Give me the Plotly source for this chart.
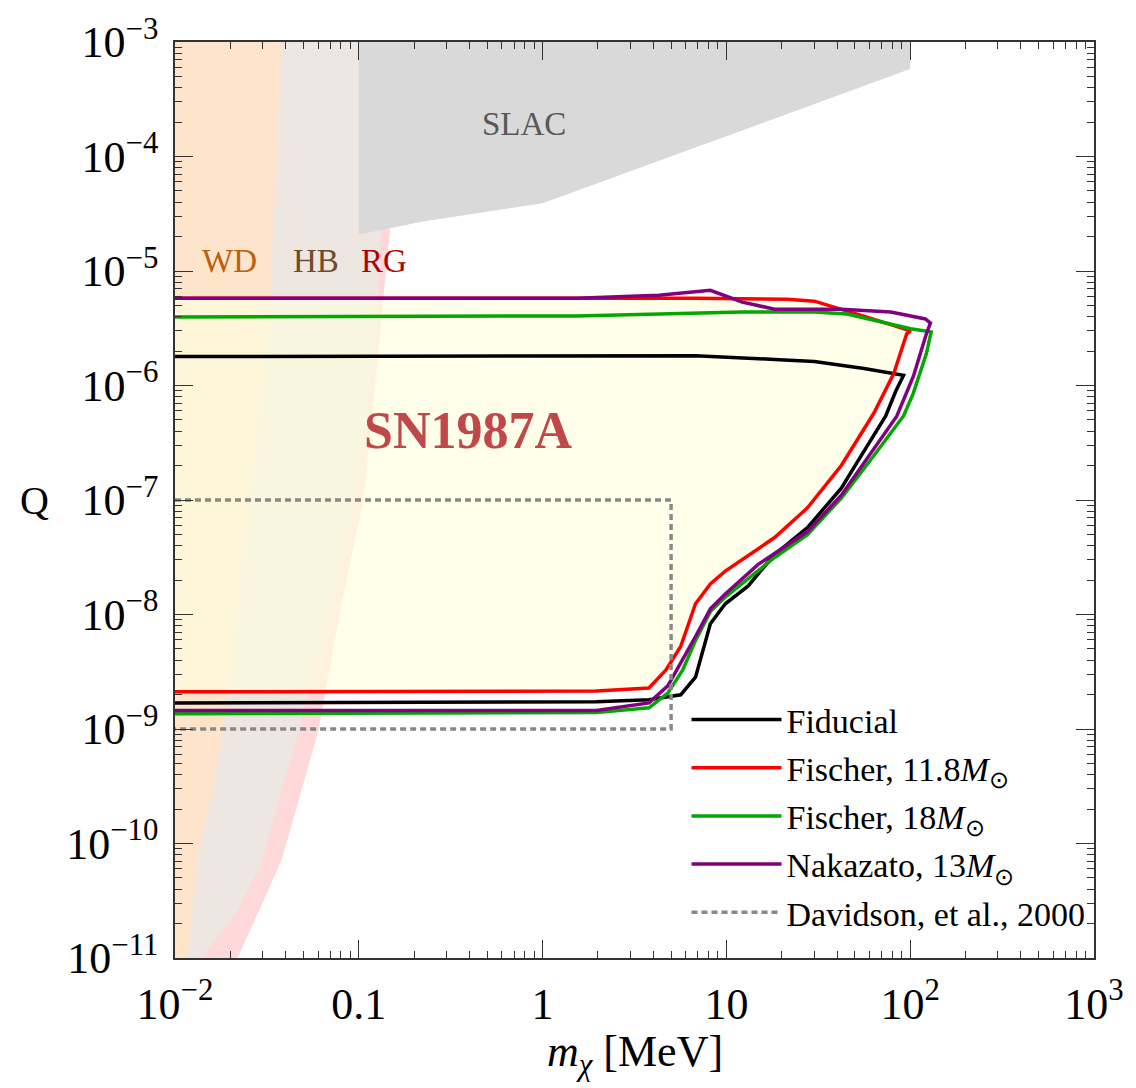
import numpy as np
import plotly.graph_objects as go

# ---- SN1987A cooling bounds on millicharged particles: (m_chi [MeV], Q) contours ----
fid_m = [0.01, 6.8, 18.3, 30.1, 56.1, 92, 83.4, 73.6, 51.4, 42.2, 27.6, 18.3, 13.1, 9.86, 8.18, 6.79, 5.64, 3.79, 1.96, 0.01]
fid_q = [1.79e-6, 1.82e-6, 1.69e-6, 1.62e-6, 1.41e-6, 1.23e-6, 8.9e-7, 5.42e-7, 2.13e-7, 1.27e-7, 5.73e-8, 3.35e-8, 1.77e-8, 1.24e-8, 8.3e-9, 2.84e-9, 1.99e-9, 1.80e-9, 1.73e-9, 1.69e-9]

f118_m = [0.01, 6.8, 21.5, 30.1, 57.0, 100.5, 95.7, 81.5, 63.5, 42.2, 27.6, 18.3, 9.86, 8.18, 6.79, 5.64, 4.68, 3.79, 1.96, 0.01]
f118_q = [5.78e-6, 5.78e-6, 5.67e-6, 5.45e-6, 4.0e-6, 3.0e-6, 2.83e-6, 1.28e-6, 5.75e-7, 2.0e-7, 8.53e-8, 4.70e-8, 2.39e-8, 1.85e-8, 1.24e-8, 5.26e-9, 3.27e-9, 2.28e-9, 2.15e-9, 2.11e-9]

f18_m = [0.01, 1.53, 12.2, 30.1, 45.4, 69.2, 100.5, 130, 122.5, 104, 92, 63.5, 42.2, 27.6, 18.3, 9.86, 8.18, 6.79, 5.78, 4.80, 3.79, 1.96, 0.01]
f18_q = [3.97e-6, 4.05e-6, 4.38e-6, 4.38e-6, 4.21e-6, 3.59e-6, 3.13e-6, 2.94e-6, 1.90e-6, 8.57e-7, 5.42e-7, 2.45e-7, 1.04e-7, 4.99e-8, 3.15e-8, 1.42e-8, 1.06e-8, 5.93e-9, 3.27e-9, 2.06e-9, 1.53e-9, 1.39e-9, 1.36e-9]

nak_m = [0.01, 1.53, 4.29, 8.18, 12.2, 18.3, 42.2, 78.4, 121, 128.8, 122.5, 104, 84.5, 63.5, 42.2, 27.6, 14.9, 9.86, 8.18, 6.79, 5.64, 4.80, 3.79, 1.96, 0.01]
nak_q = [5.78e-6, 5.78e-6, 6.14e-6, 6.79e-6, 5.35e-6, 4.64e-6, 4.64e-6, 4.38e-6, 3.81e-6, 3.51e-6, 2.83e-6, 1.2e-6, 5.4e-7, 2.81e-7, 1.10e-7, 5.30e-8, 2.74e-8, 1.51e-8, 1.12e-8, 6.43e-9, 3.76e-9, 2.38e-9, 1.69e-9, 1.45e-9, 1.45e-9]

# Davidson et al. (2000) box
dav_m = [0.01, 5, 5, 0.01]
dav_q = [1e-7, 1e-7, 1e-9, 1e-9]

# ---- other constraints: right-hand boundaries of stellar bounds, SLAC region ----
wd_m = [0.0378, 0.0355, 0.0325, 0.0219, 0.0193, 0.0155, 0.0131, 0.0117]
wd_q = [1e-3, 9.6e-5, 3.25e-6, 1.24e-8, 1.69e-9, 2.32e-10, 7.0e-11, 1e-11]

hb_m = [0.16, 0.1324, 0.123, 0.096, 0.0711, 0.0472, 0.0325, 0.0299, 0.0219, 0.0140]
hb_q = [1e-3, 2.24e-5, 1.90e-6, 1e-7, 1.24e-8, 9.9e-10, 1.2e-10, 7.0e-11, 2.6e-11, 1e-11]

rg_m = [0.165, 0.148, 0.136, 0.1277, 0.106, 0.0805, 0.0605, 0.0417, 0.0378, 0.0287, 0.0219]
rg_q = [1e-3, 2.24e-5, 5.9e-6, 1.90e-6, 1e-7, 1.24e-8, 9.9e-10, 1.2e-10, 7e-11, 2.6e-11, 1e-11]

slac_m = [0.1, 0.1, 0.2275, 1.0, 100, 100]
slac_q = [1e-3, 2.08e-5, 2.72e-5, 3.91e-5, 5.8e-4, 1e-3]

x_ticks = [0.01, 0.1, 1, 10, 100, 1000]
x_ticktext = ["10<sup>\u22122</sup>", "0.1", "1", "10", "10<sup>2</sup>", "10<sup>3</sup>"]
y_ticks = [10.0 ** e for e in range(-11, -2)]
y_ticktext = ["10<sup>\u2212%d</sup>" % -e for e in range(-11, -2)]

FONT = "Liberation Serif"
M_MIN = 0.01

fig = go.Figure()


def left_region(m, q, color):
    """Fill everything to the left of a boundary curve."""
    xs = [M_MIN] + list(m) + [M_MIN]
    ys = [q[0]] + list(q) + [q[-1]]
    fig.add_trace(go.Scatter(x=xs, y=ys, fill="toself", fillcolor=color, mode="none",
                             showlegend=False, hoverinfo="skip"))


left_region(rg_m, rg_q, "#ffd9d9")
left_region(hb_m, hb_q, "#ede6e1")
left_region(wd_m, wd_q, "#fde4cb")
fig.add_trace(go.Scatter(x=slac_m, y=slac_q, fill="toself", fillcolor="#d9d9d9", mode="none",
                         showlegend=False, hoverinfo="skip"))
# excluded SN1987A region (shaded)
fig.add_trace(go.Scatter(x=f118_m, y=f118_q, fill="toself", fillcolor="rgba(255,255,222,0.65)",
                         mode="none", showlegend=False, hoverinfo="skip"))

LW = 3.5
curves = [
    (fid_m, fid_q, "#000000", "Fiducial"),
    (f118_m, f118_q, "#ff0000", "Fischer, 11.8<i>M</i><sub>\u2299</sub>"),
    (f18_m, f18_q, "#00a800", "Fischer, 18<i>M</i><sub>\u2299</sub>"),
    (nak_m, nak_q, "#800080", "Nakazato, 13<i>M</i><sub>\u2299</sub>"),
]
for i, (m, q, c, name) in enumerate(curves):
    fig.add_trace(go.Scatter(x=m, y=q, mode="lines", line=dict(color=c, width=LW),
                             name=name, legendgroup="g%d" % i))
fig.add_trace(go.Scatter(x=dav_m, y=dav_q, mode="lines",
                         line=dict(color="#888888", width=3.5, dash="6px,4px"),
                         name="Davidson, et al., 2000", legendgroup="g4"))

# region labels
labels = [
    ("SLAC", 0.79, 1.64e-4, 33, "#585858", False),
    ("WD", 0.0198, 1.05e-5, 33, "#b8620e", False),
    ("HB", 0.0583, 1.05e-5, 33, "#6e4b2a", False),
    ("RG", 0.1374, 1.05e-5, 33, "#b00000", False),
    ("SN1987A", 0.395, 3.44e-7, 52, "#c04848", True),
]
for txt, xm, yq, size, col, bold in labels:
    fig.add_annotation(x=np.log10(xm), y=np.log10(yq), xref="x", yref="y",
                       text="<b>%s</b>" % txt if bold else txt, showarrow=False,
                       yshift=8, font=dict(family=FONT, size=size, color=col))

# axis titles
fig.add_annotation(x=-0.153, y=0.5, xref="paper", yref="paper", text="Q", showarrow=False,
                   xanchor="center", yanchor="middle",
                   font=dict(family=FONT, size=40, color="black"))
fig.add_annotation(x=0.5, y=-0.105, xref="paper", yref="paper",
                   text="<i>m</i><sub><i>\u03c7</i></sub> [MeV]", showarrow=False,
                   xanchor="center", yanchor="middle",
                   font=dict(family=FONT, size=44, color="black"))

minor_x = [k * 10.0 ** e for e in range(-2, 3) for k in range(2, 10)]
minor_y = [k * 10.0 ** e for e in range(-11, -3) for k in range(2, 10)]

axis_common = dict(type="log", showgrid=False, zeroline=False, showline=True,
                   linecolor="#333333", linewidth=1.6, mirror="ticks", ticks="inside",
                   ticklen=18, tickwidth=1.4, tickcolor="#333333",
                   tickfont=dict(family=FONT, size=44, color="black"))

fig.update_xaxes(range=[-2, 3], tickvals=x_ticks, ticktext=x_ticktext,
                 minor=dict(tickvals=minor_x, ticks="inside", ticklen=7, tickwidth=1.2,
                            tickcolor="#333333"),
                 ticklabelstandoff=6, **axis_common)
fig.update_yaxes(range=[-11, -3], tickvals=y_ticks, ticktext=y_ticktext,
                 minor=dict(tickvals=minor_y, ticks="inside", ticklen=7, tickwidth=1.2,
                            tickcolor="#333333"),
                 ticklabelstandoff=6, **axis_common)

fig.update_layout(
    width=1136, height=1088, autosize=False,
    margin=dict(l=175, r=34, t=32, b=130),
    plot_bgcolor="white", paper_bgcolor="white",
    font=dict(family=FONT, color="black"),
    legend=dict(x=0.5566, y=0.2916, xanchor="left", yanchor="top",
                bgcolor="rgba(0,0,0,0)", itemwidth=90, tracegroupgap=1,
                traceorder="grouped", font=dict(family=FONT, size=34, color="black")),
)

fig.write_html("out.html")
